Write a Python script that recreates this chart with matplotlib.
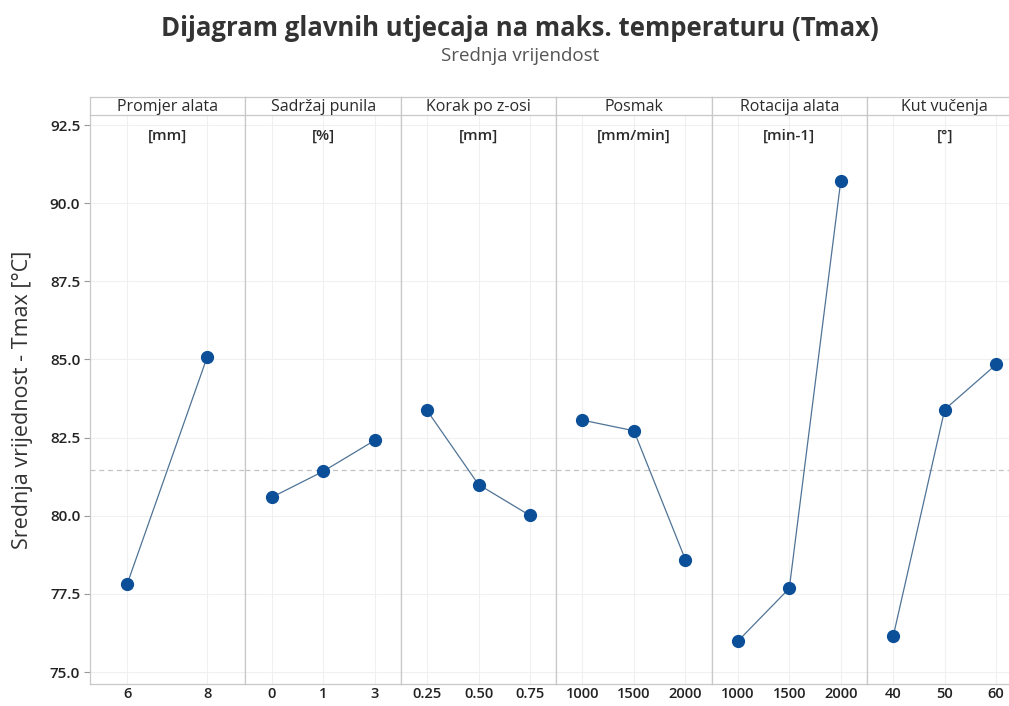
#-*- coding: utf-8 -*-

######################PAKETI###########################
import numpy as np
import matplotlib
matplotlib.use('Agg')
import matplotlib.pyplot as plt
#######################################################

plt.rcParams['font.family'] = ['Open Sans', 'DejaVu Sans']

#-----------------------------------------------------#
# Podaci: srednje vrijednosti Tmax po razinama faktora #
#-----------------------------------------------------#
faktori = ['Promjer alata', 'Sadržaj punila', 'Korak po z-osi',
           'Posmak', 'Rotacija alata', 'Kut vučenja']
jedinice = ['[mm]', '[%]', '[mm]', '[mm/min]', '[min-1]', '[°]']

razine_promjer = ['6', '8']
razine_punilo = ['0', '1', '3']
razine_korak = ['0.25', '0.50', '0.75']
razine_posmak = ['1000', '1500', '2000']
razine_rotacija = ['1000', '1500', '2000']
razine_kut = ['40', '50', '60']

tmax_promjer = [77.81, 85.09]
tmax_punilo = [80.59, 81.42, 82.41]
tmax_korak = [83.37, 81.00, 80.01]
tmax_posmak = [83.06, 82.72, 78.60]
tmax_rotacija = [75.99, 77.68, 90.71]
tmax_kut = [76.15, 83.40, 84.84]

srednja = 81.45   # ukupna srednja vrijednost

razine = [razine_promjer, razine_punilo, razine_korak,
          razine_posmak, razine_rotacija, razine_kut]
vrijednosti = [tmax_promjer, tmax_punilo, tmax_korak,
               tmax_posmak, tmax_rotacija, tmax_kut]

y_ticks = [75.0, 77.5, 80.0, 82.5, 85.0, 87.5, 90.0, 92.5]

#-----------------------------------------------------#
# Raspored                                            #
#-----------------------------------------------------#
W, H = 1009, 706
fig = plt.figure(figsize=(W / 100, H / 100), dpi=100)

lijevo = 90
sirina = 155.4
gore = 115      # dno zaglavlja
zaglavlje = 97  # vrh zaglavlja
dolje = 684

linija = '#4f7396'
tocka = '#0b4f99'
okvir = '#c8c8c8'
mreza = '#f0f0f0'

for i in range(6):
    x0 = (lijevo + i * sirina) / W
    ax = fig.add_axes([x0, 1 - dolje / H, sirina / W, (dolje - gore) / H])
    n = len(razine[i])
    x = np.arange(n)
    if n == 2:
        ax.set_xlim(-0.4625, 1.475)
    else:
        ax.set_xlim(-0.51, 2.51)
    ax.set_ylim(74.62, 92.82)

    ax.set_yticks(y_ticks)
    ax.set_xticks(x)
    ax.set_xticklabels(razine[i], fontsize=10.5, color='#222222', fontweight='semibold')
    ax.grid(True, color=mreza, linewidth=0.8)
    ax.set_axisbelow(True)

    ax.axhline(srednja, color='#c4c4c4', linestyle=(0, (4, 3)), linewidth=0.9, zorder=1)
    ax.plot(x, vrijednosti[i], color=linija, linewidth=0.9, zorder=2)
    ax.plot(x, vrijednosti[i], 'o', color=tocka, markersize=8.5, zorder=3)

    ax.text(0.5, 0.975, jedinice[i], transform=ax.transAxes, ha='center', va='top',
            fontsize=11, color='#2a2a2a', fontweight='semibold')

    for s in ax.spines.values():
        s.set_color(okvir)
        s.set_linewidth(0.9)
    ax.spines['top'].set_visible(False)
    ax.tick_params(axis='x', length=0, pad=2)
    if i == 0:
        ax.set_yticklabels(['%.1f' % v for v in y_ticks], fontsize=11, color='#222222',
                           fontweight='semibold')
        ax.tick_params(axis='y', length=4, color='#999999', pad=3)
        ax.set_ylabel('Srednja vrijednost - Tmax [°C]', fontsize=15.5, color='#333333', labelpad=12)
    else:
        ax.tick_params(axis='y', length=0, labelleft=False)

    # zaglavlje panela
    axh = fig.add_axes([x0, 1 - gore / H, sirina / W, (gore - zaglavlje) / H])
    axh.set_xticks([])
    axh.set_yticks([])
    for s in axh.spines.values():
        s.set_color(okvir)
        s.set_linewidth(0.9)
    axh.text(0.5, 0.45, faktori[i], transform=axh.transAxes, ha='center', va='center',
             fontsize=11.5, color='#2a2a2a')

#-----------------------------------------------------#
# Naslovi                                             #
#-----------------------------------------------------#
fig.text(520 / W, 1 - 29 / H, 'Dijagram glavnih utjecaja na maks. temperaturu (Tmax)',
         ha='center', va='center', fontsize=18.5, fontweight='bold', color='#333333')
fig.text(520 / W, 1 - 56 / H, 'Srednja vrijendost', ha='center', va='center',
         fontsize=13.5, color='#555555')

plt.savefig('out.png', dpi=100)
